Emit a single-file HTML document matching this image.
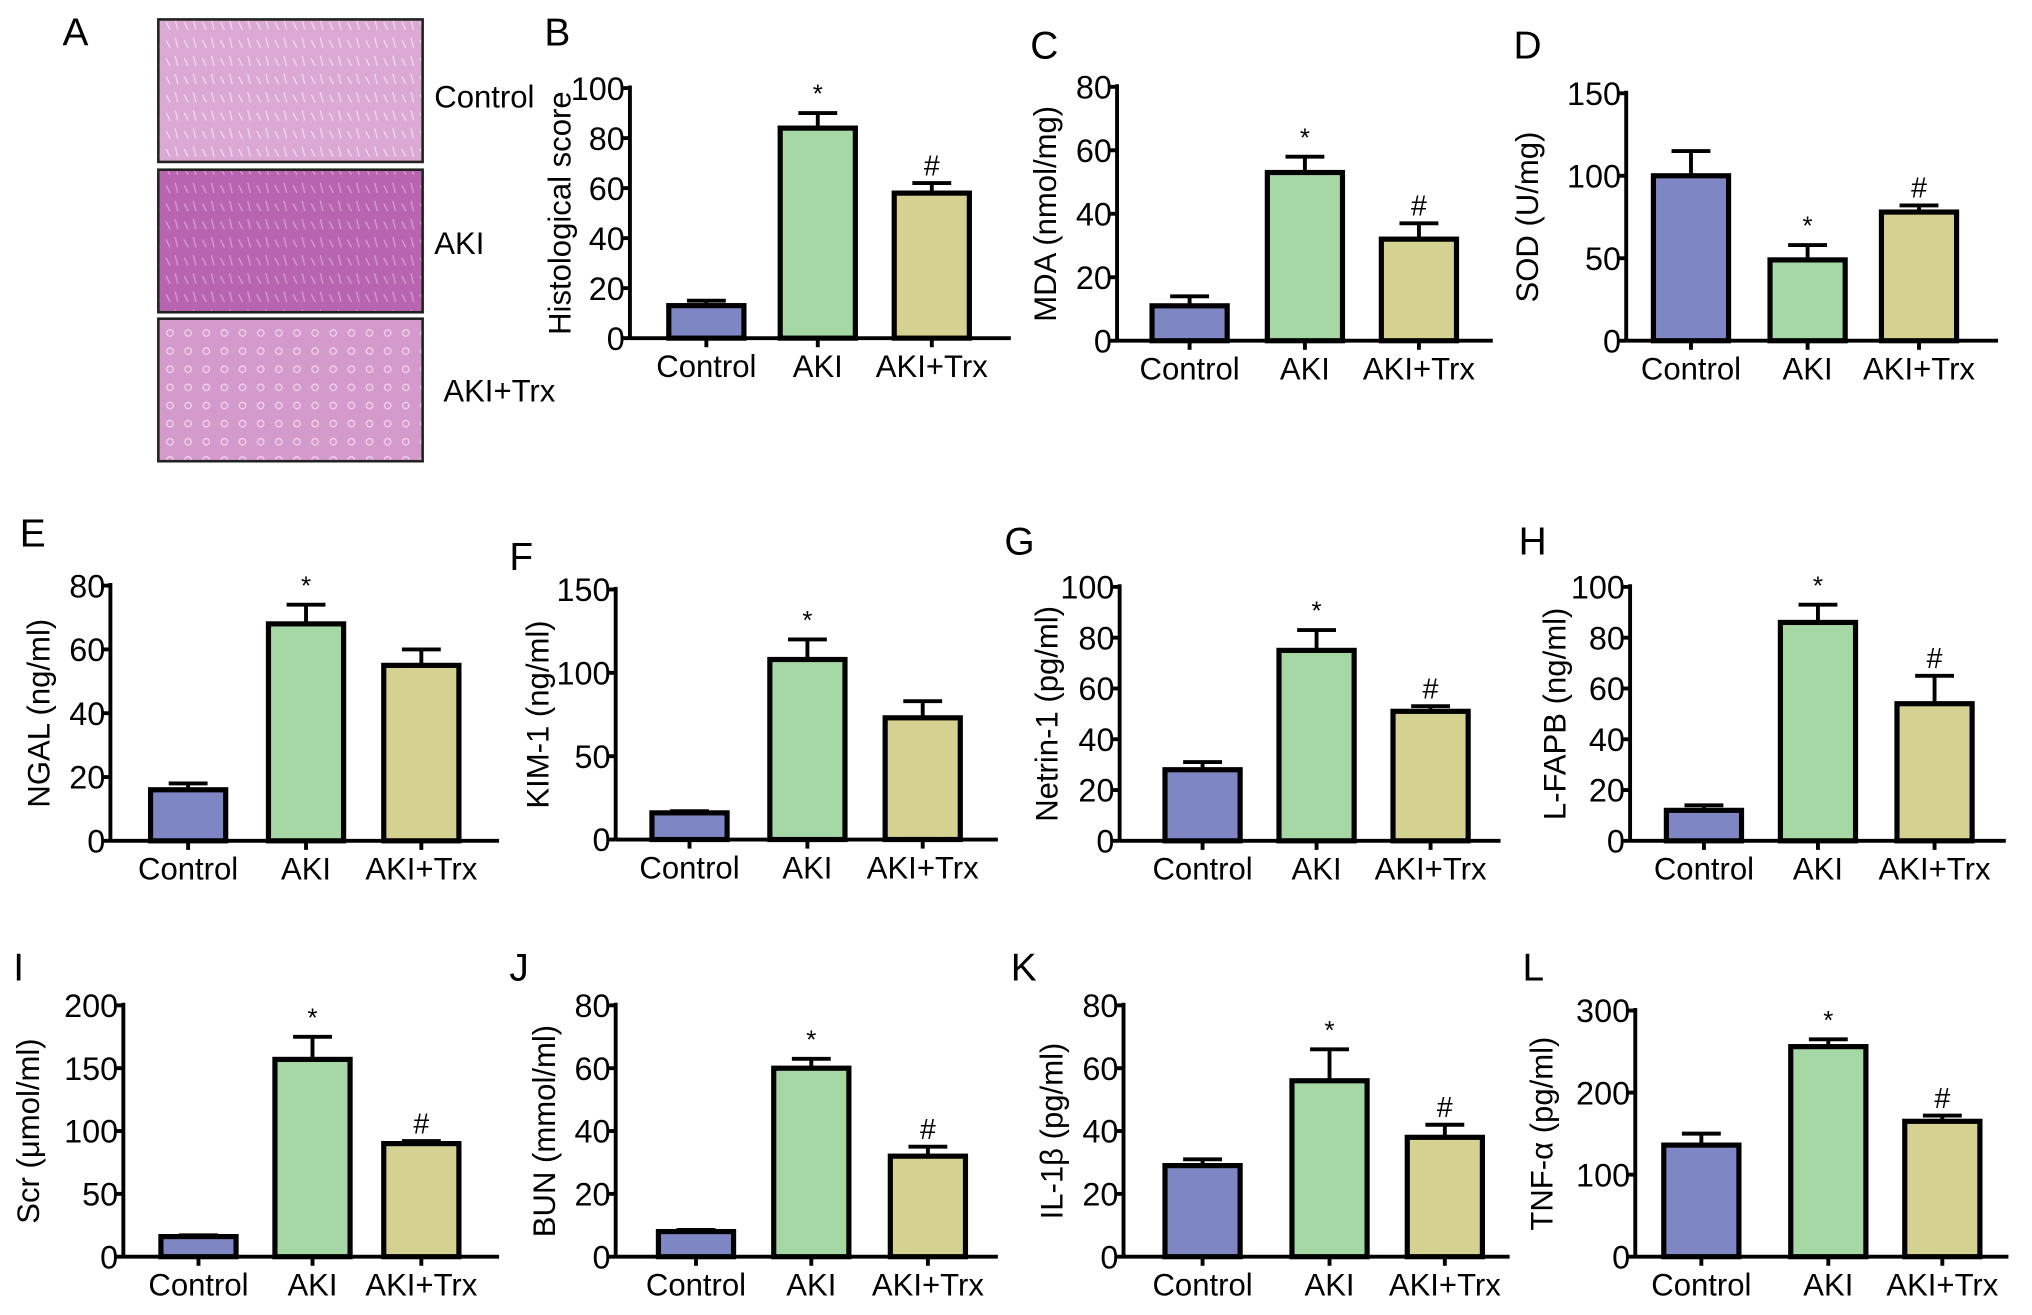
<!DOCTYPE html>
<html><head><meta charset="utf-8"><style>
html,body{margin:0;padding:0;background:#fff;}
svg{display:block;font-family:"Liberation Sans Narrow","Liberation Sans",sans-serif;}
</style></head><body>
<svg id="fig" width="2032" height="1315" viewBox="0 0 1568 1015" xmlns="http://www.w3.org/2000/svg">
<defs>
<pattern id="tex1" width="14" height="14" patternUnits="userSpaceOnUse"><rect width="14" height="14" fill="#dba9d4"/><path d="M2 3 l3 6 M9 1 l2 8" stroke="#f1d8ee" stroke-width="1"/></pattern>
<pattern id="tex2" width="14" height="14" patternUnits="userSpaceOnUse"><rect width="14" height="14" fill="#b964b0"/><path d="M2 3 l3 6 M9 1 l2 8" stroke="#d89bd2" stroke-width="1"/></pattern>
<pattern id="tex3" width="14" height="14" patternUnits="userSpaceOnUse"><rect width="14" height="14" fill="#d49acc"/><circle cx="5" cy="5" r="2.5" fill="none" stroke="#efd3ea" stroke-width="1"/></pattern>
</defs>
<g>
<text x="48" y="35" font-size="30">A</text>
<rect x="122" y="15" width="204" height="110" fill="url(#tex1)" stroke="#222" stroke-width="2"/>
<rect x="122" y="131" width="204" height="110" fill="url(#tex2)" stroke="#222" stroke-width="2"/>
<rect x="122" y="246" width="204" height="110" fill="url(#tex3)" stroke="#222" stroke-width="2"/>
<text x="335" y="83" font-size="24">Control</text>
<text x="335" y="196" font-size="24">AKI</text>
<text x="342" y="310" font-size="24">AKI+Trx</text>
</g>
<g id="charts"></g>
</svg>
<script>
const categories = ["Control","AKI","AKI+Trx"];
const colors = ["#7f86c4","#a6d8a6","#d5d190"];
const valsB=[13,84,58], errB=[15,90,62];
const valsC=[11,53,32], errC=[14,58,37];
const valsD=[100,49,78], errD=[115,58,82];
const valsE=[16,68,55], errE=[18,74,60];
const valsF=[16,108,73], errF=[17,120,83];
const valsG=[28,75,51], errG=[31,83,53];
const valsH=[12,86,54], errH=[14,93,65];
const valsI=[16,157,90], errI=[17,175,92];
const valsJ=[8,60,32], errJ=[8.5,63,35];
const valsK=[29,56,38], errK=[31,66,42];
const valsL=[136,256,165], errL=[150,265,172];
const ticksB=[0,20,40,60,80,100], ticksC=[0,20,40,60,80], ticksD=[0,50,100,150];
const ticksE=[0,20,40,60,80], ticksF=[0,50,100,150], ticksG=[0,20,40,60,80,100], ticksH=[0,20,40,60,80,100];
const ticksI=[0,50,100,150,200], ticksJ=[0,20,40,60,80], ticksK=[0,20,40,60,80], ticksL=[0,100,200,300];
const marksB=["","*","#"], marksC=["","*","#"], marksD=["","*","#"], marksE=["","*",""], marksF=["","*",""];
const marksG=["","*","#"], marksH=["","*","#"], marksI=["","*","#"], marksJ=["","*","#"], marksK=["","*","#"], marksL=["","*","#"];

const panels=[
 {id:"b",L:"B",lx:420,ly:35,ax:486,y0:261,yt:68,xe:780,cx:[545,631,719],v:valsB,e:errB,t:ticksB,m:marksB,yl:"Histological score",ylx:440},
 {id:"c",L:"C",lx:795,ly:45,ax:862,y0:263,yt:67,xe:1152,cx:[918,1007,1095],v:valsC,e:errC,t:ticksC,m:marksC,yl:"MDA (nmol/mg)",ylx:815},
 {id:"d",L:"D",lx:1168,ly:45,ax:1255,y0:263,yt:72,xe:1542,cx:[1305,1395,1481],v:valsD,e:errD,t:ticksD,m:marksD,yl:"SOD (U/mg)",ylx:1187},
 {id:"e",L:"E",lx:15,ly:422,ax:85,y0:649,yt:452,xe:385,cx:[145,236,325],v:valsE,e:errE,t:ticksE,m:marksE,yl:"NGAL (ng/ml)",ylx:38},
 {id:"f",L:"F",lx:393,ly:440,ax:475,y0:648,yt:455,xe:770,cx:[532,623,712],v:valsF,e:errF,t:ticksF,m:marksF,yl:"KIM-1 (ng/ml)",ylx:423},
 {id:"g",L:"G",lx:775,ly:428,ax:864,y0:649,yt:453,xe:1158,cx:[928,1016,1104],v:valsG,e:errG,t:ticksG,m:marksG,yl:"Netrin-1 (pg/ml)",ylx:816},
 {id:"h",L:"H",lx:1172,ly:428,ax:1258,y0:649,yt:453,xe:1548,cx:[1315,1403,1493],v:valsH,e:errH,t:ticksH,m:marksH,yl:"L-FAPB (ng/ml)",ylx:1208},
 {id:"i",L:"I",lx:10,ly:757,ax:95,y0:970,yt:776,xe:385,cx:[153,241,325],v:valsI,e:errI,t:ticksI,m:marksI,yl:"Scr (\u03bcmol/ml)",ylx:30},
 {id:"j",L:"J",lx:393,ly:757,ax:475,y0:970,yt:776,xe:770,cx:[537,626,716],v:valsJ,e:errJ,t:ticksJ,m:marksJ,yl:"BUN (mmol/ml)",ylx:428},
 {id:"k",L:"K",lx:780,ly:757,ax:867,y0:970,yt:776,xe:1165,cx:[928,1026,1115],v:valsK,e:errK,t:ticksK,m:marksK,yl:"IL-1\u03b2 (pg/ml)",ylx:820},
 {id:"l",L:"L",lx:1175,ly:757,ax:1262,y0:970,yt:780,xe:1550,cx:[1313,1411,1499],v:valsL,e:errL,t:ticksL,m:marksL,yl:"TNF-\u03b1 (pg/ml)",ylx:1198}
];
const NS="http://www.w3.org/2000/svg";
const root=document.getElementById("charts");
function mk(tag,attrs,parent){const el=document.createElementNS(NS,tag);for(const k in attrs)el.setAttribute(k,attrs[k]);parent.appendChild(el);return el;}
panels.forEach(p=>{
 const g=mk("g",{},root);
 
 
 const max=p.t[p.t.length-1];
 const y=v=>p.y0-(v/max)*(p.y0-p.yt);
 const lab=mk("text",{x:p.lx,y:p.ly,"font-size":30},g);lab.textContent=p.L;
 
 
 const ya=mk("line",{x1:p.ax,y1:p.yt-2,x2:p.ax,y2:p.y0,stroke:"#000","stroke-width":3},g);
 
 
 p.t.forEach(t=>{
  mk("line",{x1:p.ax-6,y1:y(t),x2:p.ax,y2:y(t),stroke:"#000","stroke-width":3},g);
  const tl=mk("text",{x:p.ax-4,y:y(t)+9,"font-size":25,"text-anchor":"end"},g);tl.textContent=t;
  
  
 });
 const yt=mk("text",{x:p.ylx,y:(p.y0+p.yt)/2,"font-size":24,"text-anchor":"middle",transform:`rotate(-90 ${p.ylx} ${(p.y0+p.yt)/2})`},g);
 yt.textContent=p.yl;
 
 
 p.v.forEach((v,i)=>{
  const cx=p.cx[i],w=58;
  const el=mk("line",{x1:cx,y1:y(v),x2:cx,y2:y(p.e[i]),stroke:"#000","stroke-width":3},g);
  
  
  mk("line",{x1:cx-15,y1:y(p.e[i]),x2:cx+15,y2:y(p.e[i]),stroke:"#000","stroke-width":3},g);
  const r=mk("rect",{x:cx-w/2,y:y(v),width:w,height:p.y0-y(v),fill:colors[i],stroke:"#000","stroke-width":4},g);
  
  
  mk("line",{x1:cx,y1:p.y0,x2:cx,y2:p.y0+7,stroke:"#000","stroke-width":3},g);
  const xl=mk("text",{x:cx,y:p.y0+30,"font-size":24,"text-anchor":"middle"},g);xl.textContent=categories[i];
  
  
  if(p.m[i]){
   const s=mk("text",{x:cx,y:y(p.e[i])-(p.m[i]=="*"?8:6),"font-size":p.m[i]=="*"?20:22,"text-anchor":"middle"},g);s.textContent=p.m[i];
   
   
  }
 });
 const xa=mk("line",{x1:p.ax,y1:p.y0,x2:p.xe,y2:p.y0,stroke:"#000","stroke-width":3},g);
 
 
});
</script>
</body></html>
